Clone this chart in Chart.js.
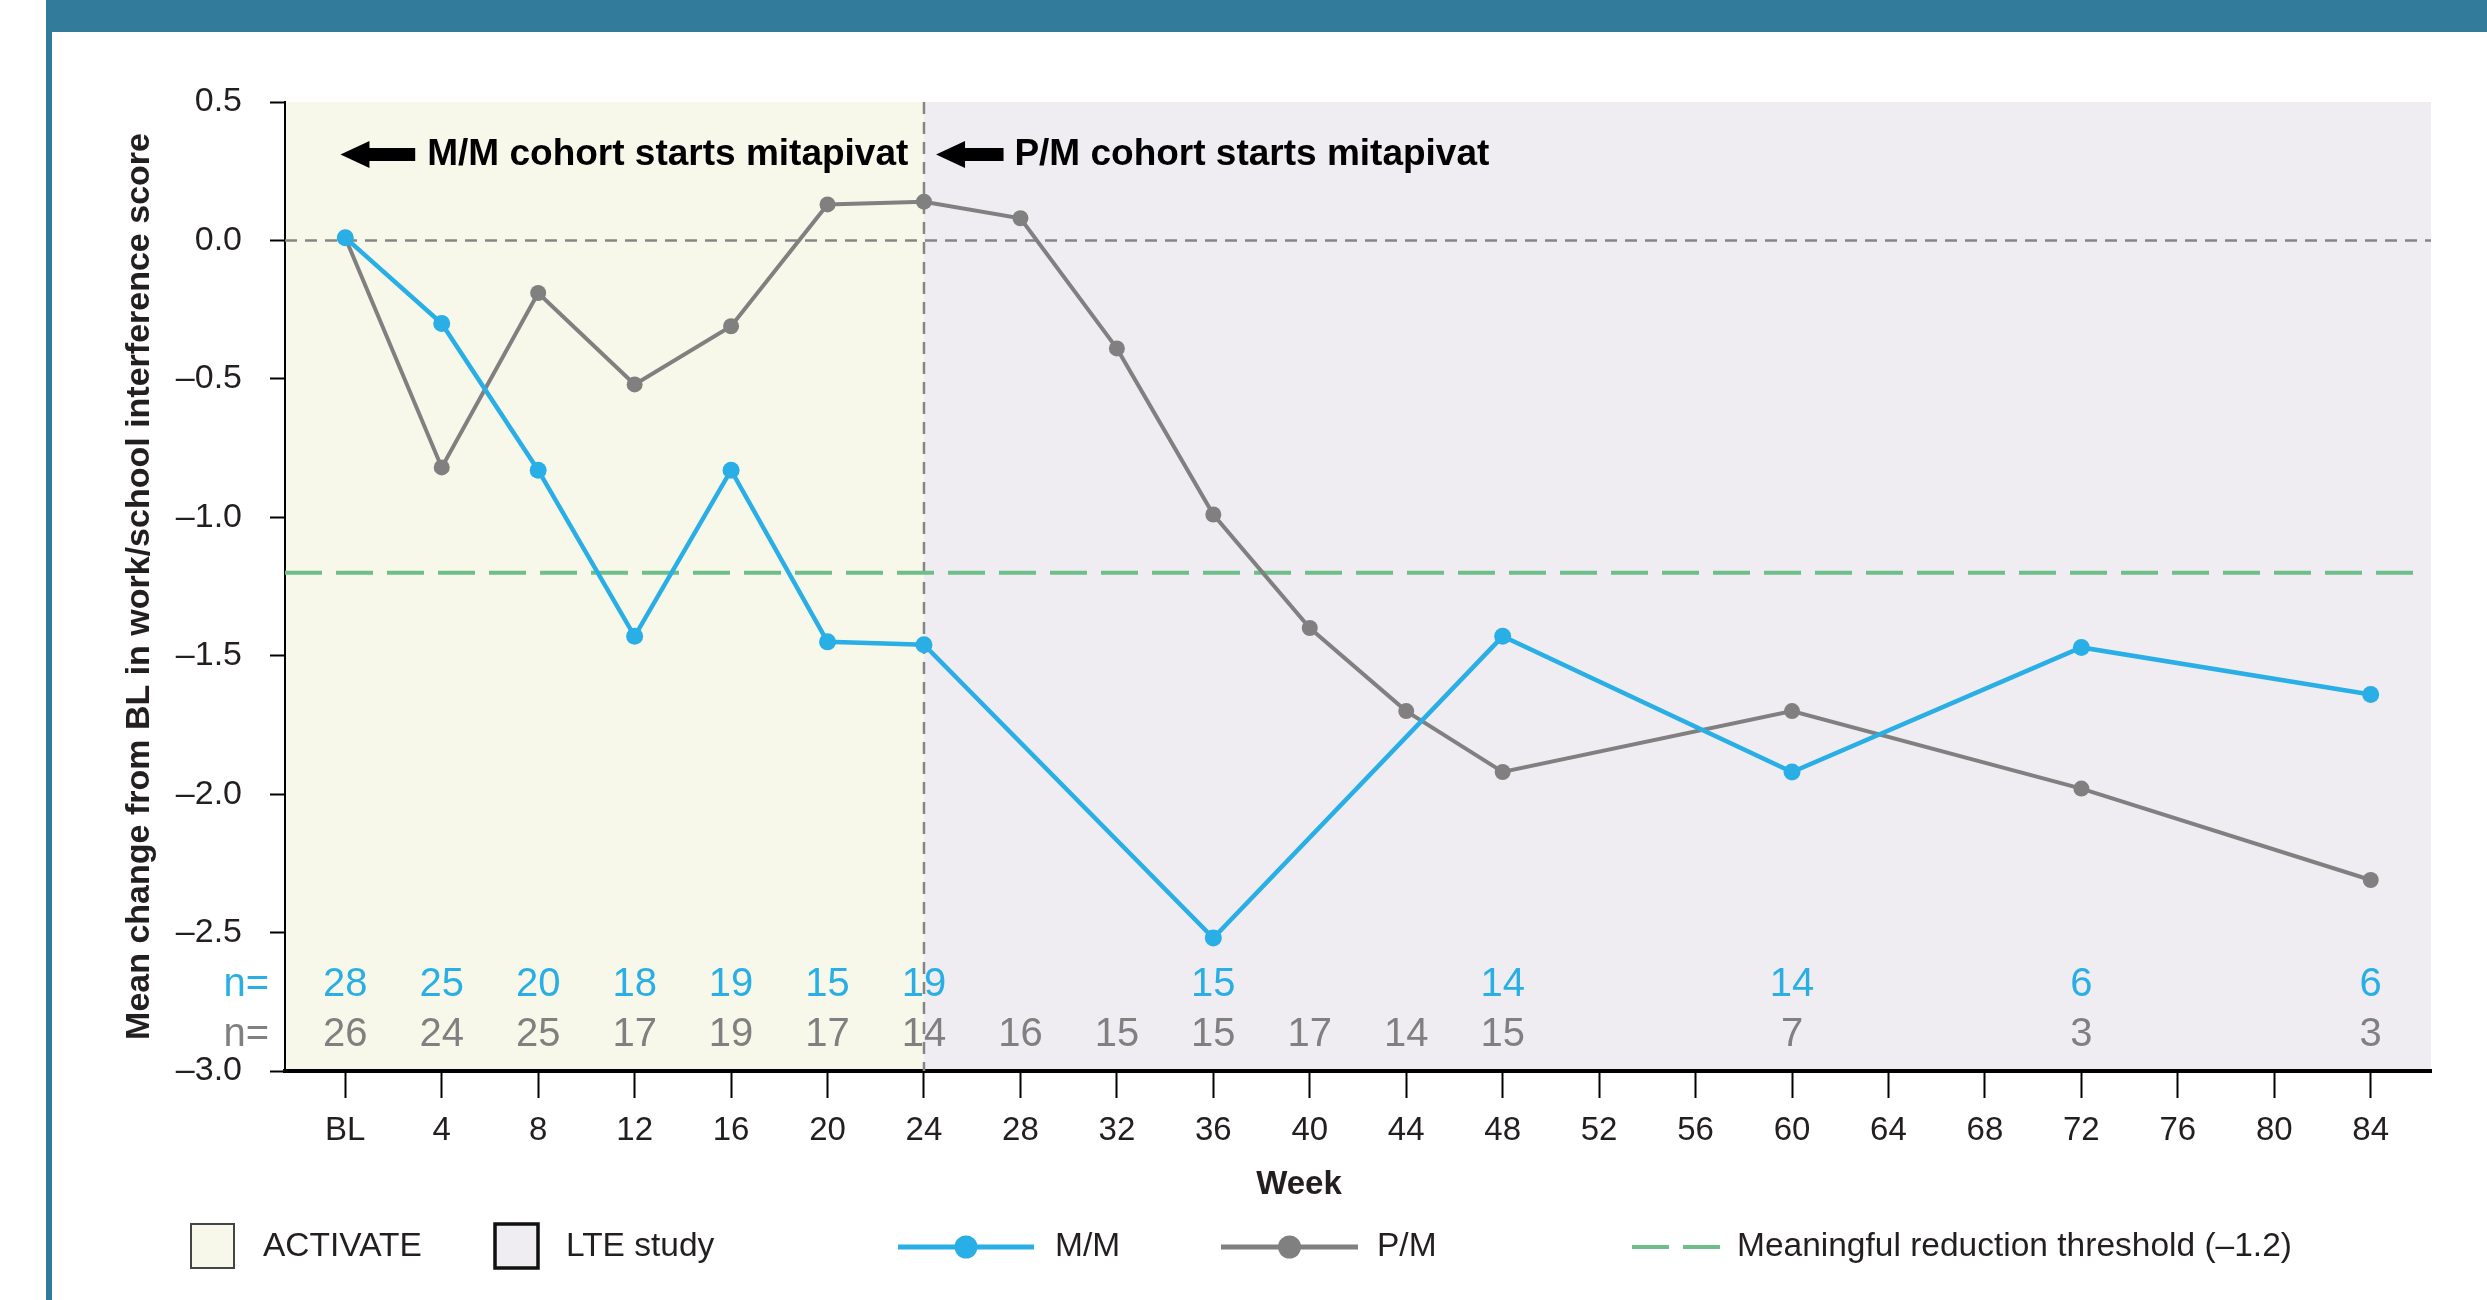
<!DOCTYPE html>
<html>
<head>
<meta charset="utf-8">
<script src="https://cdn.jsdelivr.net/npm/chart.js@4.4.1/dist/chart.umd.min.js"></script>
<style>
  html, body { margin: 0; padding: 0; background: #fff; }
  #frame {
    position: absolute; left: 46px; top: 0; width: 2441px; height: 1300px;
    box-sizing: border-box;
    border-top: 32px solid #337b9b;
    border-left: 6px solid #337b9b;
  }
  #chart { position: absolute; left: 0; top: 0; }
</style>
</head>
<body>
<div id="frame"></div>
<canvas id="chart" width="2487" height="1300"></canvas>
<script>
// --- Data ---
const weekTicks = [0, 4, 8, 12, 16, 20, 24, 28, 32, 36, 40, 44, 48, 52, 56, 60, 64, 68, 72, 76, 80, 84];
const yTicks = [-3.0, -2.5, -2.0, -1.5, -1.0, -0.5, 0.0, 0.5];

const mmWeeks = [0, 4, 8, 12, 16, 20, 24, 36, 48, 60, 72, 84];
const mmValues = [0.01, -0.30, -0.83, -1.43, -0.83, -1.45, -1.46, -2.52, -1.43, -1.92, -1.47, -1.64];
const mmN = [28, 25, 20, 18, 19, 15, 19, 15, 14, 14, 6, 6];

const pmWeeks = [0, 4, 8, 12, 16, 20, 24, 28, 32, 36, 40, 44, 48, 60, 72, 84];
const pmValues = [0.01, -0.82, -0.19, -0.52, -0.31, 0.13, 0.14, 0.08, -0.39, -0.99, -1.40, -1.70, -1.92, -1.70, -1.98, -2.31];
const pmN = [26, 24, 25, 17, 19, 17, 14, 16, 15, 15, 17, 14, 15, 7, 3, 3];

const thresholdValue = -1.2;
const switchWeek = 24;

// --- Look ---
const BLUE = "#29afe5";
const GREY = "#808080";
const GREEN = "#6dbf89";
const INK = "#231f20";
const ACTIVATE_BG = "#f8f8ea";
const LTE_BG = "#efedf2";
const FONT = "'Liberation Sans', Arial, sans-serif";

Chart.defaults.font.family = FONT;
Chart.defaults.color = INK;

function fmtY(v) {
  if (Math.abs(v) < 1e-9) return "0.0";
  return (v < 0 ? "\u2013" : "") + Math.abs(v).toFixed(1);
}

function drawArrow(ctx, tipX, tailX, y) {
  const head = 29, bar = 13, headH = 27;
  ctx.beginPath();
  ctx.moveTo(tipX, y);
  ctx.lineTo(tipX + head, y - headH / 2);
  ctx.lineTo(tipX + head, y - bar / 2);
  ctx.lineTo(tailX, y - bar / 2);
  ctx.lineTo(tailX, y + bar / 2);
  ctx.lineTo(tipX + head, y + bar / 2);
  ctx.lineTo(tipX + head, y + headH / 2);
  ctx.closePath();
  ctx.fill();
}

const overlayPlugin = {
  id: "overlay",
  beforeDraw(chart) {
    const { ctx, chartArea: a, scales: { x } } = chart;
    const split = x.getPixelForValue(switchWeek);
    ctx.save();
    ctx.fillStyle = ACTIVATE_BG;
    ctx.fillRect(a.left, a.top, split - a.left, a.bottom - a.top);
    ctx.fillStyle = LTE_BG;
    ctx.fillRect(split, a.top, a.right - split, a.bottom - a.top);
    ctx.restore();
  },
  beforeDatasetsDraw(chart) {
    const { ctx, chartArea: a, scales: { x, y } } = chart;
    ctx.save();

    // n= rows
    ctx.font = "40px " + FONT;
    ctx.textBaseline = "middle";
    const rowMM = y.getPixelForValue(-2.69);
    const rowPM = y.getPixelForValue(-2.87);
    ctx.textAlign = "right";
    ctx.fillStyle = BLUE;
    ctx.fillText("n=", a.left - 16, rowMM);
    ctx.fillStyle = GREY;
    ctx.fillText("n=", a.left - 16, rowPM);
    ctx.textAlign = "center";
    ctx.fillStyle = BLUE;
    mmWeeks.forEach((w, i) => ctx.fillText(String(mmN[i]), x.getPixelForValue(w), rowMM));
    ctx.fillStyle = GREY;
    pmWeeks.forEach((w, i) => ctx.fillText(String(pmN[i]), x.getPixelForValue(w), rowPM));

    // reference lines
    ctx.strokeStyle = "#858585";
    ctx.lineWidth = 2.5;
    ctx.setLineDash([12, 8]);
    const y0 = y.getPixelForValue(0);
    ctx.beginPath();
    ctx.moveTo(a.left, y0);
    ctx.lineTo(a.right, y0);
    ctx.stroke();
    const xs = x.getPixelForValue(switchWeek);
    ctx.beginPath();
    ctx.moveTo(xs, a.top);
    ctx.lineTo(xs, a.bottom);
    ctx.stroke();

    ctx.strokeStyle = GREEN;
    ctx.lineWidth = 4;
    ctx.setLineDash([37, 14]);
    const yt = y.getPixelForValue(thresholdValue);
    ctx.beginPath();
    ctx.moveTo(a.left, yt);
    ctx.lineTo(a.right - 6, yt);
    ctx.stroke();
    ctx.restore();
  },
  afterDatasetsDraw(chart) {
    const { ctx, scales: { x, y } } = chart;
    const ya = y.getPixelForValue(0.31);
    ctx.save();
    ctx.fillStyle = "#000";
    drawArrow(ctx, x.getPixelForValue(-0.2), x.getPixelForValue(2.9), ya);
    drawArrow(ctx, x.getPixelForValue(24.5), x.getPixelForValue(27.3), ya);
    ctx.font = "bold 37px " + FONT;
    ctx.textAlign = "left";
    ctx.textBaseline = "middle";
    ctx.fillText("M/M cohort starts mitapivat", x.getPixelForValue(3.4), ya);
    ctx.fillText("P/M cohort starts mitapivat", x.getPixelForValue(27.75), ya);
    ctx.restore();
  },
  afterDraw(chart) {
    const { ctx } = chart;
    ctx.save();
    ctx.fillStyle = INK;
    ctx.textBaseline = "middle";
    ctx.textAlign = "center";
    ctx.font = "bold 33px " + FONT;
    ctx.fillText("Week", 1299, 1185);

    // legend
    const ly = 1247;
    ctx.font = "33.5px " + FONT;
    ctx.textAlign = "left";

    ctx.fillStyle = ACTIVATE_BG;
    ctx.fillRect(191, 1224, 43, 44);
    ctx.strokeStyle = "#444";
    ctx.lineWidth = 2;
    ctx.strokeRect(191, 1224, 43, 44);
    ctx.fillStyle = INK;
    ctx.fillText("ACTIVATE", 263, ly);

    ctx.fillStyle = LTE_BG;
    ctx.fillRect(495, 1224, 43, 44);
    ctx.strokeStyle = "#111";
    ctx.lineWidth = 3.5;
    ctx.strokeRect(495, 1224, 43, 44);
    ctx.fillStyle = INK;
    ctx.fillText("LTE study", 566, ly);

    [[898, 1034, BLUE, "M/M", 1055], [1221, 1358, GREY, "P/M", 1377]].forEach(([x1, x2, c, t, tx]) => {
      ctx.strokeStyle = c;
      ctx.lineWidth = 5;
      ctx.beginPath();
      ctx.moveTo(x1, ly);
      ctx.lineTo(x2, ly);
      ctx.stroke();
      ctx.fillStyle = c;
      ctx.beginPath();
      ctx.arc((x1 + x2) / 2, ly, 11.5, 0, Math.PI * 2);
      ctx.fill();
      ctx.fillStyle = INK;
      ctx.fillText(t, tx, ly);
    });

    ctx.strokeStyle = GREEN;
    ctx.lineWidth = 4;
    ctx.setLineDash([37, 14]);
    ctx.beginPath();
    ctx.moveTo(1632, ly);
    ctx.lineTo(1720, ly);
    ctx.stroke();
    ctx.setLineDash([]);
    ctx.fillText("Meaningful reduction threshold (\u20131.2)", 1737, ly);
    ctx.restore();
  }
};

new Chart(document.getElementById("chart"), {
  type: "line",
  data: {
    datasets: [
      {
        label: "M/M",
        data: mmWeeks.map((w, i) => ({ x: w, y: mmValues[i] })),
        borderColor: BLUE,
        backgroundColor: BLUE,
        borderWidth: 4.5,
        pointRadius: 8.5,
        pointBorderWidth: 0,
        tension: 0
      },
      {
        label: "P/M",
        data: pmWeeks.map((w, i) => ({ x: w, y: pmValues[i] })),
        borderColor: GREY,
        backgroundColor: GREY,
        borderWidth: 4,
        pointRadius: 8,
        pointBorderWidth: 0,
        tension: 0
      }
    ]
  },
  options: {
    responsive: false,
    animation: false,
    devicePixelRatio: 1,
    layout: { padding: { left: 0, top: 102, right: 56, bottom: 119 } },
    plugins: {
      legend: { display: false },
      tooltip: { enabled: false }
    },
    scales: {
      x: {
        type: "linear",
        min: -2.5,
        max: 86.5,
        afterBuildTicks: (s) => { s.ticks = weekTicks.map((v) => ({ value: v })); },
        afterFit: (s) => { s.height = 110; },
        grid: { drawOnChartArea: false, drawTicks: true, tickLength: 27, tickColor: "#000", tickWidth: 2 },
        border: { display: true, color: "#000", width: 4 },
        ticks: {
          padding: 13,
          font: { size: 33 },
          color: INK,
          callback: (v) => (v === 0 ? "BL" : String(v))
        }
      },
      y: {
        min: -3,
        max: 0.5,
        afterBuildTicks: (s) => { s.ticks = yTicks.map((v) => ({ value: v })); },
        afterFit: (s) => { s.width = 285; },
        grid: { drawOnChartArea: false, drawTicks: true, tickLength: 15, tickColor: "#000", tickWidth: 2 },
        border: { display: true, color: "#000", width: 2 },
        ticks: {
          padding: 28,
          font: { size: 34 },
          color: INK,
          callback: (v) => fmtY(v)
        },
        title: {
          display: true,
          text: "Mean change from BL in work/school interference score",
          font: { size: 34, weight: "bold" },
          color: INK,
          padding: { top: 119, bottom: 0 }
        }
      }
    }
  },
  plugins: [overlayPlugin]
});
</script>
</body>
</html>
